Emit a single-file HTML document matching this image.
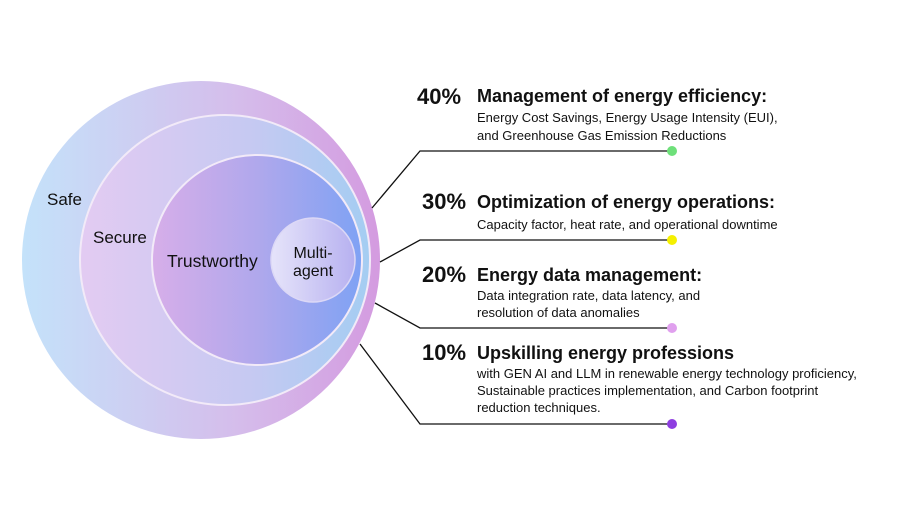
<!DOCTYPE html><html><head><style>body{margin:0;background:#fff}svg text{font-family:"Liberation Sans",sans-serif;fill:#111}</style></head><body>
<svg width="900" height="521" viewBox="0 0 900 521" xmlns="http://www.w3.org/2000/svg">
<defs>
<linearGradient id="g1" x1="0" x2="1"><stop offset="0" stop-color="#c4e2fa"/><stop offset="0.6" stop-color="#d5bdeb"/><stop offset="1" stop-color="#d49be0"/></linearGradient>
<linearGradient id="g2" x1="0" x2="1"><stop offset="0" stop-color="#e3cbf2"/><stop offset="0.6" stop-color="#c5c9f2"/><stop offset="1" stop-color="#a4cdf2"/></linearGradient>
<linearGradient id="g3" x1="0" x2="1"><stop offset="0" stop-color="#d7aee9"/><stop offset="0.5" stop-color="#b0a8ec"/><stop offset="1" stop-color="#7fa2f4"/></linearGradient>
<linearGradient id="g4" x1="0" x2="1"><stop offset="0" stop-color="#e6e4fa"/><stop offset="1" stop-color="#b7b1f0"/></linearGradient>
</defs>
<circle cx="201" cy="260" r="179" fill="url(#g1)"/>
<circle cx="225" cy="260" r="145" fill="url(#g2)" stroke="#f2eaf8" stroke-width="2"/>
<circle cx="257" cy="260" r="105" fill="url(#g3)" stroke="#f2eaf8" stroke-width="2"/>
<circle cx="313" cy="260" r="42" fill="url(#g4)" stroke="#dcd8f6" stroke-width="1.5"/>
<text x="47" y="205" font-size="17">Safe</text>
<text x="93" y="243" font-size="17">Secure</text>
<text x="167" y="267" font-size="17.5">Trustworthy</text>
<text x="313" y="258" font-size="16" text-anchor="middle">Multi-</text>
<text x="313" y="276" font-size="16" text-anchor="middle">agent</text>
<g fill="none" stroke="#111" stroke-width="1.3">
<polyline points="372,208 420,151 672,151"/>
<polyline points="380,262 420,240 672,240"/>
<polyline points="375,303 420,328 672,328"/>
<polyline points="360,344 420,424 672,424"/>
</g>
<circle cx="672" cy="151" r="5" fill="#6ee07a"/>
<circle cx="672" cy="240" r="5" fill="#f5f000"/>
<circle cx="672" cy="328" r="5" fill="#e0a0ee"/>
<circle cx="672" cy="424" r="5" fill="#8e3ee0"/>
<g font-weight="bold" font-size="22">
<text x="417" y="104">40%</text><text x="422" y="209">30%</text><text x="422" y="282">20%</text><text x="422" y="360">10%</text>
</g>
<g font-weight="bold" font-size="18">
<text x="477" y="102">Management of energy efficiency:</text>
<text x="477" y="208">Optimization of energy operations:</text>
<text x="477" y="281">Energy data management:</text>
<text x="477" y="359">Upskilling energy professions</text>
</g>
<g font-size="13">
<text x="477" y="122">Energy Cost Savings, Energy Usage Intensity (EUI),</text>
<text x="477" y="140">and Greenhouse Gas Emission Reductions</text>
<text x="477" y="229">Capacity factor, heat rate, and operational downtime</text>
<text x="477" y="300">Data integration rate, data latency, and</text>
<text x="477" y="317">resolution of data anomalies</text>
<text x="477" y="378">with GEN AI and LLM in renewable energy technology proficiency,</text>
<text x="477" y="395">Sustainable practices implementation, and Carbon footprint</text>
<text x="477" y="412">reduction techniques.</text>
</g>
</svg>
</body></html>
